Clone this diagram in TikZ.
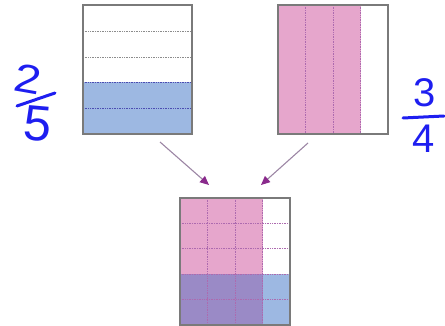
\documentclass[tikz,border=0pt]{standalone}
\usepackage{fontspec}
\newfontfamily\handfont{Liberation Sans}
\usetikzlibrary{arrows.meta}
\definecolor{bluef}{HTML}{9DB8E2}
\definecolor{pinkf}{HTML}{E6A6CC}
\definecolor{purpf}{HTML}{9A8AC6}
\definecolor{edgec}{HTML}{7A7A7A}
\definecolor{arrl}{HTML}{9C86A4}
\definecolor{arrh}{HTML}{8A2A8C}
\definecolor{ink}{HTML}{1E1EF0}
\tikzset{
  frame/.style={draw=edgec,line width=1.3pt},
  gridl/.style={densely dotted,draw=gray!90,line width=0.7pt},
  gridb/.style={densely dotted,draw=blue!40!gray,line width=0.7pt},
  gridp/.style={densely dotted,draw=arrh!70,line width=0.7pt},
  link/.style={draw=arrl,line width=1.1pt,-{Triangle[length=9pt,width=8pt,color=arrh]}},
  digit/.style={text=ink,inner sep=0pt,font=\handfont\fontsize{40}{40}\selectfont},
  bigdigit/.style={text=ink,inner sep=0pt,font=\handfont\fontsize{50}{50}\selectfont},
  fbar/.style={draw=ink,line width=3pt,line cap=round}
}
\begin{document}
\begin{tikzpicture}[x=1pt,y=-1pt]
\useasboundingbox (0,0) rectangle (445,326);
% left box 2/5
\fill[bluef] (83,82) rectangle (192,134);
\foreach \yy in {31,57} \draw[gridl] (83,\yy) -- (192,\yy);
\foreach \yy in {82,108} \draw[gridb] (83,\yy) -- (192,\yy);
\node[frame,minimum width=109pt,minimum height=129pt,inner sep=0pt] (L) at (137.5,69.5) {};
% right box 3/4
\fill[pinkf] (278,5) rectangle (360.5,134);
\foreach \xx in {305.5,333,360.5} \draw[gridp] (\xx,5) -- (\xx,134);
\node[frame,minimum width=110pt,minimum height=129pt,inner sep=0pt] (R) at (333,69.5) {};
% bottom box
\fill[pinkf] (180,198) rectangle (262.5,274.2);
\fill[purpf] (180,274.2) rectangle (262.5,325);
\fill[bluef] (262.5,274.2) rectangle (290,325);
\foreach \yy in {223.4,248.8,274.2,299.6} \draw[gridp] (180,\yy) -- (290,\yy);
\foreach \xx in {207.5,235,262.5} \draw[gridp] (\xx,198) -- (\xx,325);
\node[frame,minimum width=110pt,minimum height=127pt,inner sep=0pt] (B) at (235,261.5) {};
% arrows
\coordinate (s1) at (160,142);
\coordinate (e1) at (209,185);
\coordinate (s2) at (308,143);
\coordinate (e2) at (261,185);
\draw[link] (s1) -- (e1);
\draw[link] (s2) -- (e2);
% fraction 2/5
\node[digit,rotate=-10,xscale=1.2] (n1) at (28,79) {2};
\coordinate (b1a) at (17,106);
\coordinate (b1b) at (55,93);
\draw[fbar] (b1a) -- (b1b);
\node[bigdigit,rotate=-5] (d1) at (38,124) {5};
% fraction 3/4
\node[digit] (n2) at (425,93) {3};
\coordinate (b2a) at (403,118);
\coordinate (b2b) at (444,116);
\draw[fbar] (b2a) -- (b2b);
\node[digit] (d2) at (424,139) {4};
\end{tikzpicture}
\end{document}
